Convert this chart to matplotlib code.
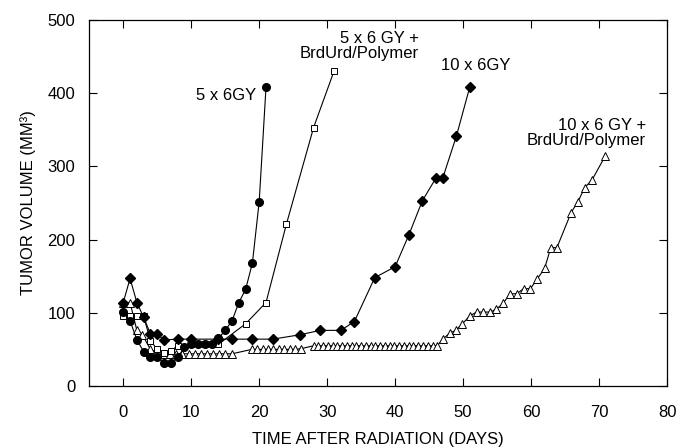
import matplotlib
matplotlib.use("Agg")
import matplotlib.pyplot as plt

plt.rcParams['font.family'] = ['Liberation Sans', 'DejaVu Sans']

# 5 x 6GY (filled circles)
days_5x6 = [0, 1, 2, 3, 4, 5, 6, 7, 8, 9, 10, 11, 12, 13, 14, 15, 16, 17, 18, 19, 20, 21]
vol_5x6 = [101, 89, 63, 47, 39, 39, 32, 32, 39, 53, 57, 57, 57, 57, 65, 76, 89, 114, 132, 168, 252, 408]

# 5 x 6 GY + BrdUrd/Polymer (open squares)
days_5x6_brd = [0, 1, 2, 3, 4, 5, 6, 7, 8, 10, 12, 14, 18, 21, 24, 28, 31]
vol_5x6_brd = [95, 95, 95, 95, 62, 50, 45, 48, 55, 57, 57, 57, 85, 114, 221, 353, 430]

# 10 x 6GY (filled diamonds)
days_10x6 = [0, 1, 2, 3, 4, 5, 6, 8, 10, 14, 16, 19, 22, 26, 29, 32, 34, 37, 40, 42, 44, 46, 47, 49, 51]
vol_10x6 = [114, 147, 114, 94, 71, 71, 63, 64, 64, 64, 64, 64, 64, 70, 76, 76, 88, 148, 163, 206, 253,
            284, 284, 341, 409]

# 10 x 6 GY + BrdUrd/Polymer (open triangles)
days_10x6_brd = [0, 1, 2, 2.8, 4, 5,
                 6, 6.9, 7.8, 8.7, 9.6, 10.5, 11.4, 12.3, 13.2, 14.1, 15.0, 16.0,
                 18.9, 19.7, 20.5, 21.3, 22.1, 22.9, 23.7, 24.5, 25.3, 26.2,
                 28.0, 28.7, 29.4, 30.1, 30.8, 31.5, 32.2, 32.9, 33.6, 34.3, 35.0, 35.7, 36.4,
                 37.1, 37.8, 38.5, 39.2, 39.9, 40.6, 41.3, 42.0, 42.7, 43.4, 44.1, 44.8, 45.5, 46.2,
                 47, 48, 48.9, 49.9, 51, 52, 53, 54, 54.9, 55.9, 56.9, 57.9, 58.9, 59.9,
                 60.9, 62, 62.9, 63.8, 65.9, 66.9, 67.9, 69, 70.9]
vol_10x6_brd = [114, 114, 76, 70, 50, 46,
                44, 44, 44, 44, 44, 44, 44, 44, 44, 44, 44, 44,
                50, 50, 50, 50, 50, 50, 50, 50, 50, 51,
                55, 55, 55, 55, 55, 55, 55, 55, 55, 55, 55, 55, 55,
                55, 55, 55, 55, 55, 55, 55, 55, 55, 55, 55, 55, 55, 55,
                64, 72, 76, 85, 96, 101, 101, 101, 105, 113, 126, 126, 133, 133,
                146, 161, 189, 189, 237, 252, 271, 282, 314]

x_ticks = [0, 10, 20, 30, 40, 50, 60, 70, 80]
y_ticks = [0, 100, 200, 300, 400, 500]

fig = plt.figure(figsize=(6.8, 4.48), dpi=100)
ax = fig.add_axes([0.1313, 0.1384, 0.8496, 0.8170])

lw = 0.8
ax.plot(days_10x6_brd, vol_10x6_brd, color='black', lw=lw, marker='^', ms=5.5,
        mfc='white', mec='black', mew=0.7)
ax.plot(days_5x6_brd, vol_5x6_brd, color='black', lw=lw, marker='s', ms=4,
        mfc='white', mec='black', mew=0.7)
ax.plot(days_10x6, vol_10x6, color='black', lw=lw, marker='D', ms=5.5, mfc='black', mec='black')
ax.plot(days_5x6, vol_5x6, color='black', lw=lw, marker='o', ms=5.5, mfc='black', mec='black')

fs = 12
ax.text(19.5, 397, '5 x 6GY', ha='right', va='center', fontsize=fs)
ax.text(43.5, 464, '5 x 6 GY +\nBrdUrd/Polymer', ha='right', va='center',
        multialignment='right', fontsize=fs, linespacing=1.0)
ax.text(51.8, 438, '10 x 6GY', ha='center', va='center', fontsize=fs)
ax.text(76.9, 345, '10 x 6 GY +\nBrdUrd/Polymer', ha='right', va='center',
        multialignment='right', fontsize=fs, linespacing=1.0)

ax.set_xlim(-5, 80)
ax.set_ylim(0, 500)
ax.set_xticks(x_ticks)
ax.set_yticks(y_ticks)
ax.tick_params(direction='in', length=6, width=0.8, top=True, right=True, labelsize=fs)
ax.tick_params(axis='x', pad=14)
ax.tick_params(axis='y', pad=10)
for s in ax.spines.values():
    s.set_linewidth(0.9)

ax.set_xlabel('TIME AFTER RADIATION (DAYS)', fontsize=fs, labelpad=8)
ax.set_ylabel('TUMOR VOLUME (MM³)', fontsize=fs, labelpad=8)

fig.savefig('out.png', dpi=100)
